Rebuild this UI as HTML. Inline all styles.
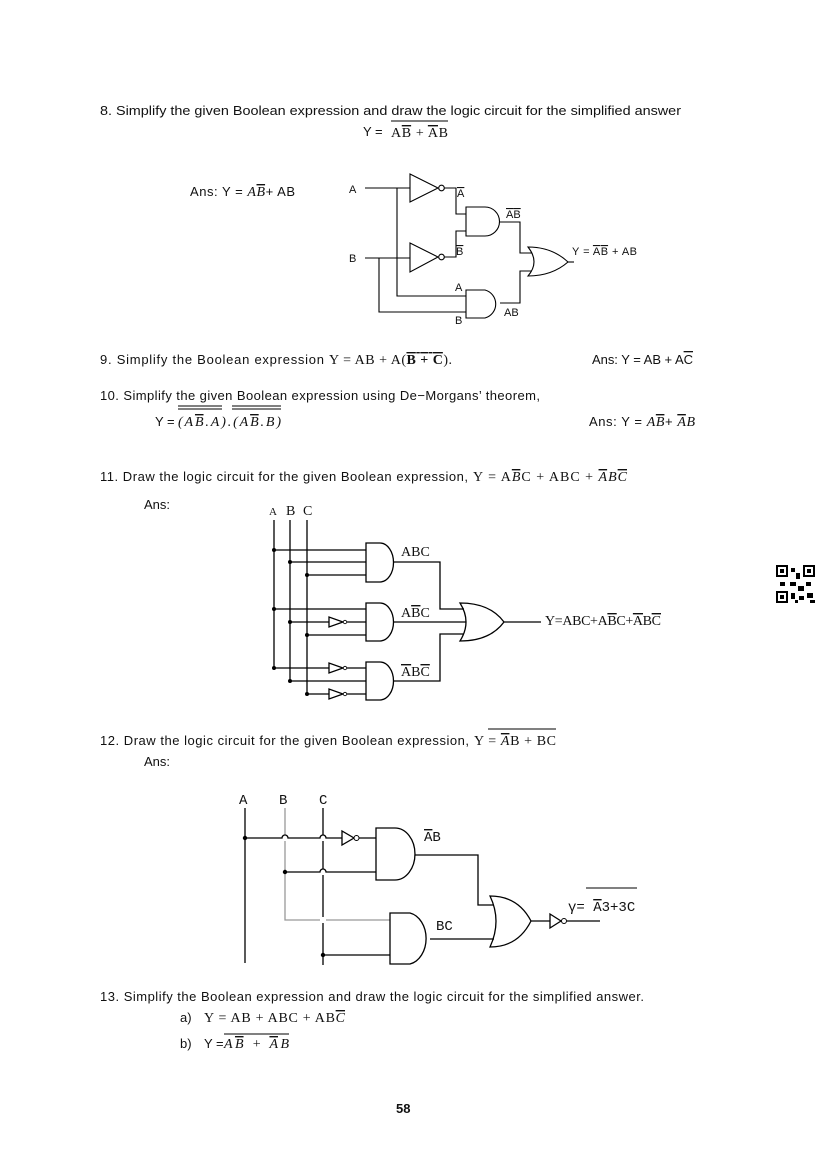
<!DOCTYPE html>
<html><head><meta charset="utf-8"><style>
html,body{margin:0;padding:0;background:#fff}
svg{display:block}
text{font-family:"Liberation Sans",sans-serif;font-size:13px;fill:#111}
.s{font-family:"Liberation Serif",serif;font-size:14px}
.sm{font-size:11px}
.o{text-decoration:overline}
.m{font-family:"Liberation Mono",monospace;font-size:14px}
</style></head><body>
<svg width="826" height="1169" viewBox="0 0 826 1169" xmlns="http://www.w3.org/2000/svg">
<!-- Q8 text -->
<text x="100" y="115" textLength="581" lengthAdjust="spacingAndGlyphs">8.    Simplify the given Boolean expression and draw the logic circuit for the simplified answer</text>
<text x="363" y="136">Y =</text>
<text x="391" y="137" class="s" textLength="57">A<tspan class="o">B</tspan> + <tspan class="o">A</tspan>B</text>
<line x1="391" y1="121" x2="448" y2="121" stroke="#000" stroke-width="1"/>
<text x="190" y="196" textLength="105">Ans: Y = <tspan font-family="Liberation Serif" font-style="italic" font-size="14">A<tspan class="o">B</tspan></tspan>+ AB</text>

<!-- Q8 circuit -->
<g stroke="#000" stroke-width="1.1" fill="none">
<path d="M365 188H410M410 174L438 188L410 202Z"/>
<circle cx="441.5" cy="188" r="2.8"/>
<path d="M444 188H456V214H466"/>
<path d="M466 207H485A14.5 14.5 0 0 1 485 236H466Z"/>
<path d="M365 258H410M410 243L438 257L410 272Z"/>
<circle cx="441.5" cy="257" r="2.8"/>
<path d="M444 257H456V231H466"/>
<path d="M397 188V296H466M379 258V312H466"/>
<path d="M466 290H485A14.5 14.5 0 0 1 485 318H466Z"/>
<path d="M500 222H520V253H532M500 303H520V271H532"/>
<path d="M528 247Q552 247 568 262Q552 276 528 276Q540 262 528 247Z"/>
<line x1="568" y1="262" x2="574" y2="262"/>
</g>
<text x="349" y="193" class="sm">A</text>
<text x="349" y="262" class="sm">B</text>
<text x="457" y="197" class="sm"><tspan class="o">A</tspan></text>
<text x="456" y="255" class="sm"><tspan class="o">B</tspan></text>
<text x="506" y="218" class="sm"><tspan class="o">A</tspan><tspan class="o">B</tspan></text>
<text x="455" y="291" class="sm">A</text>
<text x="504" y="316" class="sm">AB</text>
<text x="455" y="324" class="sm">B</text>
<text x="572" y="255" class="sm" textLength="65">Y = <tspan class="o">A</tspan><tspan class="o">B</tspan> + AB</text>

<!-- Q9 -->
<text x="100" y="364" textLength="224">9.   Simplify the Boolean expression</text>
<text x="329" y="364" class="s" textLength="123">Y = AB + A(<tspan font-weight="bold" class="o">B + C</tspan>).</text>
<text x="592" y="364" textLength="101">Ans: Y = AB + A<tspan class="o">C</tspan></text>

<!-- Q10 -->
<text x="100" y="400" textLength="440">10.  Simplify the given Boolean expression using De−Morgans’ theorem,</text>
<text x="155" y="426">Y =</text>
<text x="178" y="426" class="s" font-style="italic" textLength="103">(A<tspan class="o">B</tspan>.A).(A<tspan class="o">B</tspan>.B)</text>
<g stroke="#000" stroke-width="0.9"><line x1="178" y1="406" x2="222" y2="406"/><line x1="178" y1="409" x2="222" y2="409"/><line x1="232" y1="406" x2="281" y2="406"/><line x1="232" y1="409" x2="281" y2="409"/></g>
<text x="589" y="426" textLength="106">Ans: Y = <tspan font-family="Liberation Serif" font-style="italic" font-size="14">A<tspan class="o">B</tspan></tspan>+ <tspan font-family="Liberation Serif" font-style="italic" font-size="14"><tspan class="o">A</tspan>B</tspan></text>

<!-- Q11 -->
<text x="100" y="481" textLength="368">11.  Draw the logic circuit for the given Boolean expression,</text>
<text x="473" y="481" class="s" textLength="154">Y = A<tspan font-style="italic" class="o">B</tspan>C + ABC + <tspan font-style="italic"><tspan class="o">A</tspan>B<tspan class="o">C</tspan></tspan></text>
<text x="144" y="509">Ans:</text>
<text x="269" y="515" class="s sm" font-size="11">A</text><text x="286" y="515" class="s" font-size="11">B</text><text x="303" y="515" class="s" font-size="11">C</text>
<g stroke="#000" stroke-width="1.3" fill="none">
<path d="M274 520V668M290 520V681M307 520V695"/>
<path d="M274 550H366M290 562H366M307 575H366"/>
<path d="M366 543H380A13.5 19.5 0 0 1 380 582H366Z"/>
<path d="M274 609H366M290 622H329M344 622H366M307 635H366"/>
<path d="M329 617V627L343 622Z"/>
<path d="M366 603H380A13.5 19 0 0 1 380 641H366Z"/>
<path d="M274 668H329M344 668H366M290 681H366M307 694H329M344 694H366"/>
<path d="M329 663V673L343 668Z M329 689V699L343 694Z"/>
<path d="M366 662H380A13.5 19 0 0 1 380 700H366Z"/>
<path d="M393 562H440V609H464M393 622H466M393 681H440V634H464"/>
<path d="M460 603Q490 603 504 622Q490 641 460 641Q472 622 460 603Z"/>
<path d="M504 622H541"/>
</g>
<g fill="#000"><circle cx="274" cy="550" r="2"/><circle cx="290" cy="562" r="2"/><circle cx="307" cy="575" r="2"/><circle cx="274" cy="609" r="2"/><circle cx="290" cy="622" r="2"/><circle cx="307" cy="635" r="2"/><circle cx="274" cy="668" r="2"/><circle cx="290" cy="681" r="2"/><circle cx="307" cy="694" r="2"/></g>
<g fill="#fff" stroke="#000" stroke-width="0.8"><circle cx="345" cy="622" r="1.7"/><circle cx="345" cy="668" r="1.7"/><circle cx="345" cy="694" r="1.7"/></g>
<text x="401" y="556" class="s" font-size="12">ABC</text>
<text x="401" y="617" class="s" font-size="12">A<tspan class="o">B</tspan>C</text>
<text x="401" y="676" class="s" font-size="12"><tspan class="o">A</tspan>B<tspan class="o">C</tspan></text>
<text x="545" y="625" class="s" font-size="12" textLength="116">Y=ABC+A<tspan class="o">B</tspan>C+<tspan class="o">A</tspan>B<tspan class="o">C</tspan></text>
<!-- QR -->
<g fill="#000">
<rect x="776" y="565" width="12" height="12"/><rect x="803" y="565" width="12" height="12"/><rect x="776" y="591" width="12" height="12"/>
<rect x="791" y="568" width="4" height="4"/><rect x="796" y="573" width="4" height="6"/><rect x="790" y="582" width="6" height="4"/><rect x="780" y="582" width="5" height="4"/><rect x="798" y="586" width="6" height="5"/><rect x="806" y="582" width="5" height="4"/><rect x="791" y="593" width="4" height="6"/><rect x="799" y="596" width="5" height="4"/><rect x="807" y="593" width="6" height="5"/><rect x="810" y="600" width="5" height="3"/><rect x="795" y="600" width="3" height="3"/>
</g>
<g fill="#fff"><rect x="778" y="567" width="8" height="8"/><rect x="805" y="567" width="8" height="8"/><rect x="778" y="593" width="8" height="8"/></g>
<g fill="#000"><rect x="780" y="569" width="4" height="4"/><rect x="807" y="569" width="4" height="4"/><rect x="780" y="595" width="4" height="4"/></g>

<!-- Q12 -->
<text x="100" y="745" textLength="369">12.  Draw the logic circuit for the given Boolean expression,</text>
<text x="474" y="745" class="s" textLength="82">Y = <tspan font-style="italic" class="o">A</tspan>B + BC</text>
<line x1="488" y1="729" x2="556" y2="729" stroke="#000" stroke-width="0.9"/>
<text x="144" y="766">Ans:</text>
<text x="239" y="804" class="m">A</text>
<text x="279" y="804" class="m">B</text>
<text x="319" y="804" class="m">C</text>
<g stroke="#000" stroke-width="1.3" fill="none">
<path d="M245 808V963"/>
<path d="M285 808V835M285 841V872V920H320M326 920H390" stroke="#999"/>
<path d="M323 808V835M323 841V869M323 875V917M323 923V965"/>
<path d="M245 838H282A3 3 0 0 1 288 838H320A3 3 0 0 1 326 838H342"/>
<path d="M342 831V845L354 838Z"/>
<path d="M359 838H376M285 872H320A3 3 0 0 1 326 872H376"/>
<path d="M376 828H395A20 26 0 0 1 395 880H376Z"/>
<path d="M415 855H478V905H494"/>
<path d="M390 913H410A20 26 0 0 1 410 964H390Z"/>
<path d="M323 955H390M430 939H494"/>
<path d="M490 896Q518 896 531 921Q518 947 490 947Q502 921 490 896Z"/>
<path d="M531 921H550M550 914V928L561 921Z M567 921H600"/>
</g>
<g fill="#000"><circle cx="245" cy="838" r="2.2"/><circle cx="285" cy="872" r="2.2"/><circle cx="323" cy="955" r="2.2"/></g>
<g fill="#fff" stroke="#000" stroke-width="1"><circle cx="356.5" cy="838" r="2.5"/><circle cx="564" cy="921" r="2.5"/></g>
<text x="424" y="841" class="m"><tspan class="o">A</tspan>B</text>
<text x="436" y="930" class="m">BC</text>
<text x="568" y="911" class="m" font-size="13">γ= <tspan class="o">A</tspan>3+3C</text>
<line x1="586" y1="888" x2="637" y2="888" stroke="#000" stroke-width="1"/>

<!-- Q13 -->
<text x="100" y="1001" textLength="544">13.  Simplify the Boolean expression and draw the logic circuit for the simplified answer.</text>
<text x="180" y="1022">a)</text>
<text x="204" y="1022" class="s" textLength="141">Y = AB + ABC + AB<tspan font-style="italic" class="o">C</tspan></text>
<text x="180" y="1048">b)</text>
<text x="204" y="1048">Y =</text>
<text x="224" y="1048" class="s" font-style="italic" textLength="65">A<tspan class="o">B</tspan>  +  <tspan class="o">A</tspan>B</text>
<line x1="224" y1="1034" x2="289" y2="1034" stroke="#000" stroke-width="0.9"/>

<text x="396" y="1113" font-weight="bold" font-size="12">58</text>
</svg>
</body></html>
